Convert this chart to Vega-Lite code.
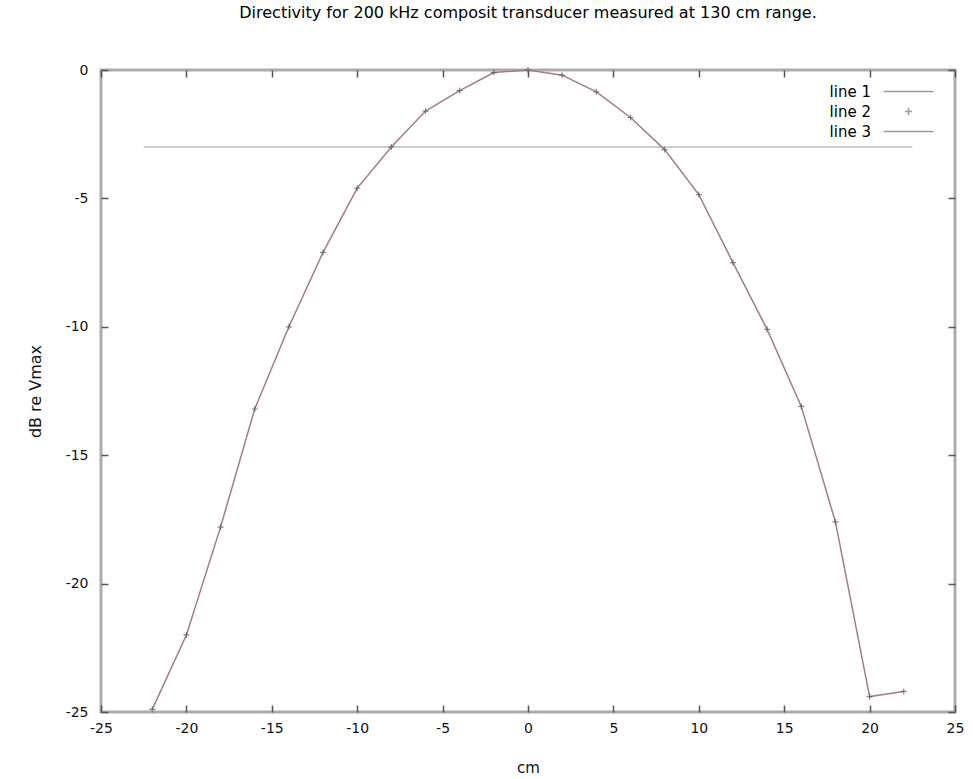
{
  "$schema": "https://vega.github.io/schema/vega-lite/v6.json",
  "width": 854,
  "height": 642,
  "autosize": "none",
  "padding": {"left": 101, "top": 70, "right": 18, "bottom": 67},
  "background": "white",
  "config": {
    "view": {"stroke": "#ababab", "strokeWidth": 3},
    "font": "DejaVu Sans"
  },
  "title": {
    "text": "Directivity for 200 kHz composit transducer measured at 130 cm range.",
    "fontSize": 16,
    "fontWeight": "normal",
    "font": "DejaVu Sans",
    "color": "#000000",
    "offset": 42,
    "anchor": "middle"
  },
  "datasets": {
    "pts": [
      {"x": -22, "y": -24.9},
      {"x": -20, "y": -22.0},
      {"x": -18, "y": -17.8},
      {"x": -16, "y": -13.2},
      {"x": -14, "y": -10.0},
      {"x": -12, "y": -7.1},
      {"x": -10, "y": -4.6},
      {"x": -8, "y": -3.0},
      {"x": -6, "y": -1.6},
      {"x": -4, "y": -0.8},
      {"x": -2, "y": -0.1},
      {"x": 0, "y": 0},
      {"x": 2, "y": -0.2},
      {"x": 4, "y": -0.85},
      {"x": 6, "y": -1.85},
      {"x": 8, "y": -3.1},
      {"x": 10, "y": -4.85},
      {"x": 12, "y": -7.5},
      {"x": 14, "y": -10.1},
      {"x": 16, "y": -13.1},
      {"x": 18, "y": -17.6},
      {"x": 20, "y": -24.4},
      {"x": 22, "y": -24.2}
    ],
    "ref": [
      {"x": -22.5, "y": -3},
      {"x": 22.5, "y": -3}
    ],
    "leg": [
      {"series": "line 1"},
      {"series": "line 2"},
      {"series": "line 3"}
    ]
  },
  "layer": [
    {
      "data": {"name": "ref"},
      "mark": {"type": "line", "color": "#bdbdbd", "strokeWidth": 1.5},
      "encoding": {
        "x": {
          "field": "x", "type": "quantitative",
          "scale": {"domain": [-25, 25], "nice": false, "zero": false},
          "axis": {
            "orient": "bottom", "title": "cm", "values": [-25,-20,-15,-10,-5,0,5,10,15,20,25],
            "labelExpr": "'' + datum.value", "labelFlush": false, "labelOverlap": false,
            "offset": -7, "domain": false, "grid": false, "tickSize": 7, "tickColor": "#555555", "tickWidth": 1.5,
            "labelFontSize": 14, "labelColor": "#111111", "labelPadding": 9,
            "titleFontSize": 15, "titleFontWeight": "normal", "titleColor": "#111111", "titlePadding": 25
          }
        },
        "y": {
          "field": "y", "type": "quantitative",
          "scale": {"domain": [-25, 0], "nice": false, "zero": false},
          "axis": {
            "orient": "left", "title": "dB re Vmax", "values": [-25,-20,-15,-10,-5,0],
            "labelExpr": "'' + datum.value", "labelFlush": false, "labelOverlap": false,
            "offset": -7, "domain": false, "grid": false,
            "tickSize": 7, "tickColor": "#555555", "tickWidth": 1.5,
            "labelFontSize": 14, "labelColor": "#111111", "labelPadding": 13,
            "titleFontSize": 16, "titleFontWeight": "normal", "titleColor": "#111111", "titlePadding": 22
          }
        }
      }
    },
    {
      "data": {"name": "pts"},
      "mark": {"type": "line", "color": "#a47c86", "strokeWidth": 1.5},
      "encoding": {
        "x": {
          "field": "x", "type": "quantitative",
          "axis": {"orient": "top", "title": null, "labels": false, "domain": false, "grid": false,
                   "values": [-25,-20,-15,-10,-5,0,5,10,15,20,25], "offset": -7,
                   "tickSize": 7, "tickColor": "#555555", "tickWidth": 1.5}
        },
        "y": {
          "field": "y", "type": "quantitative",
          "axis": {"orient": "right", "title": null, "labels": false, "domain": false, "grid": false,
                   "values": [-25,-20,-15,-10,-5,0], "offset": -7,
                   "tickSize": 7, "tickColor": "#555555", "tickWidth": 1.5}
        }
      }
    },
    {
      "data": {"name": "pts"},
      "mark": {"type": "point", "shape": "M0,-1L0,1M-1,0L1,0", "filled": false, "color": "#555555", "size": 36, "strokeWidth": 1.2},
      "encoding": {
        "x": {"field": "x", "type": "quantitative", "axis": null},
        "y": {"field": "y", "type": "quantitative", "axis": null}
      }
    },
    {
      "data": {"name": "leg"},
      "mark": {"type": "point", "filled": false, "color": "#9a9a9a", "opacity": 0},
      "encoding": {
        "shape": {
          "field": "series", "type": "nominal",
          "scale": {
            "domain": ["line 1", "line 2", "line 3"],
            "range": ["M-5,0L5,0", "M0,-0.7L0,0.7M-0.7,0L0.7,0", "M-5,0L5,0"]
          },
          "legend": {
            "orient": "none", "legendX": 800, "legendY": 14, "title": null,
            "labelAlign": "right", "labelOffset": -45, "labelFontSize": 15, "labelFont": "DejaVu Sans",
            "symbolSize": 100, "symbolStrokeWidth": 1.5, "symbolStrokeColor": "#9a9a9a",
            "symbolFillColor": "transparent", "symbolOpacity": 1, "rowPadding": 4,
            "encode": {
              "symbols": {"update": {"opacity": {"value": 1}}},
              "labels": {"update": {"fill": {"signal": "datum.label === 'line 1' ? '#7a1428' : '#16165a'"}}}
            }
          }
        }
      }
    }
  ],
  "resolve": {"axis": {"x": "independent", "y": "independent"}}
}
